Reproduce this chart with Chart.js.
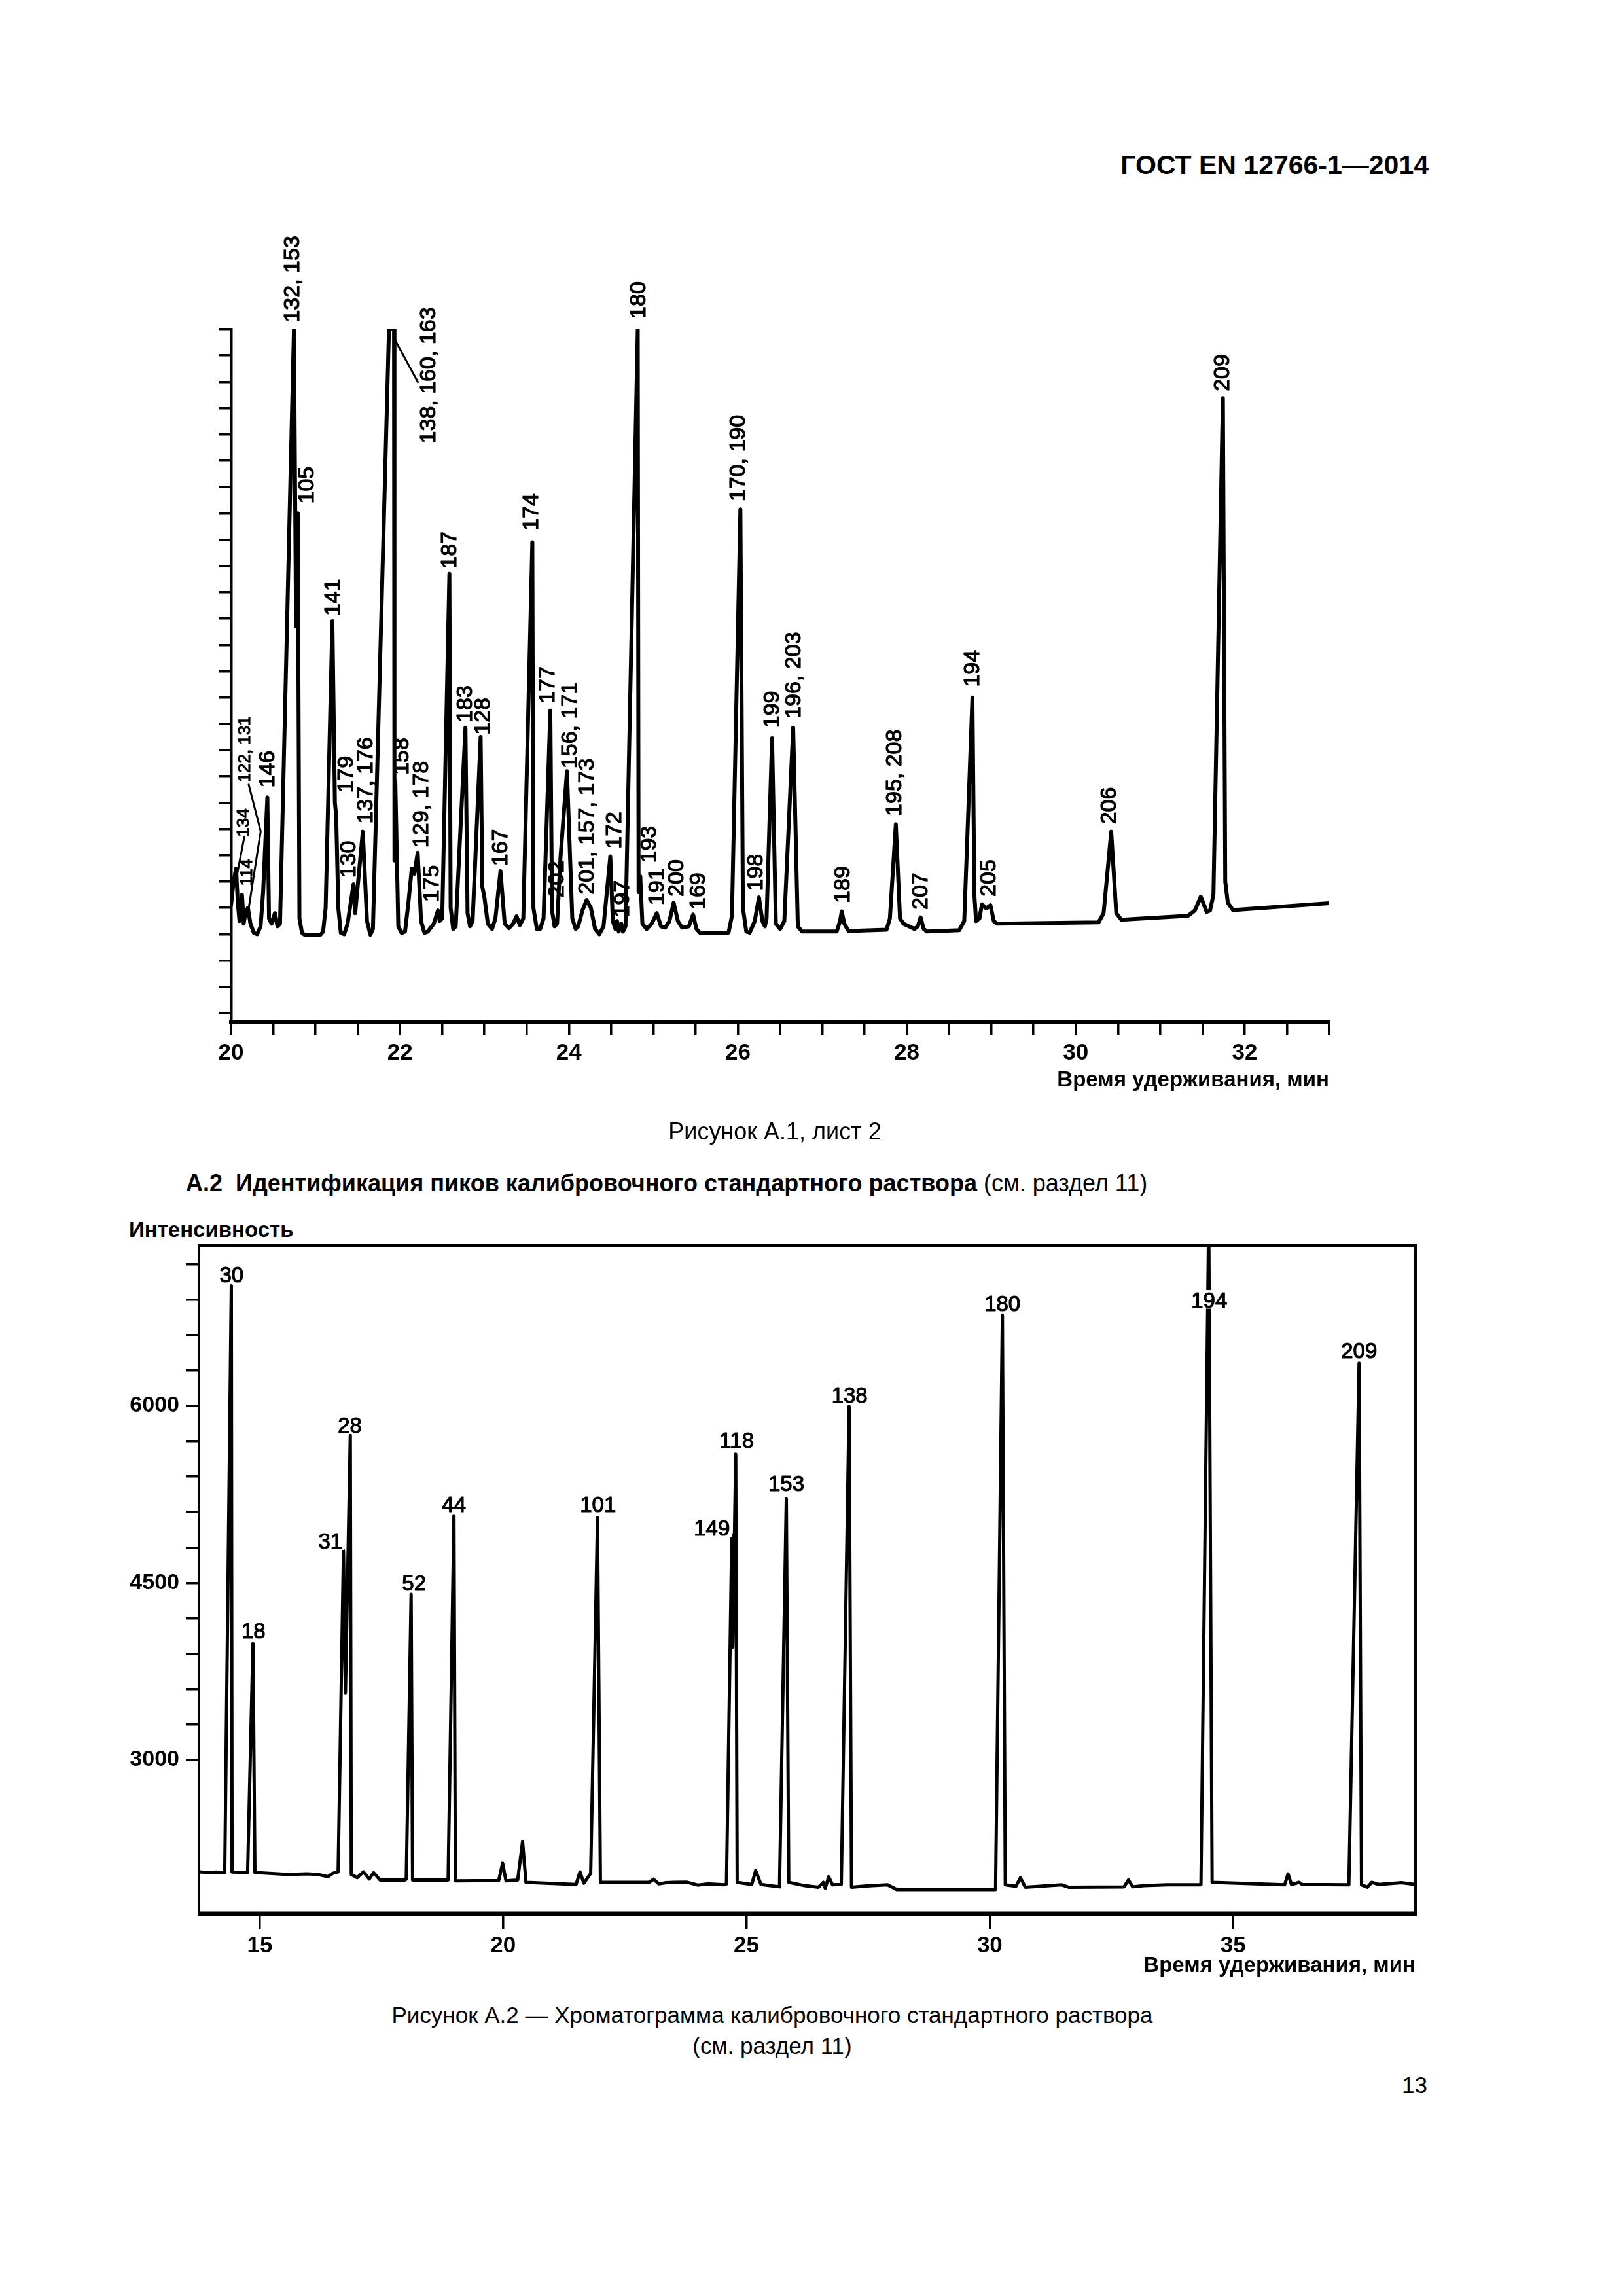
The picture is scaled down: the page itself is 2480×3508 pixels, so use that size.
<!DOCTYPE html>
<html lang="ru">
<head>
<meta charset="UTF-8">
<title>ГОСТ EN 12766-1—2014, с. 13</title>
<script src="https://cdn.jsdelivr.net/npm/chart.js"></script>
<style>
  html, body { margin: 0; padding: 0; background: #fff; }
  body { width: 2480px; height: 3508px; position: relative; overflow: hidden;
         font-family: "Liberation Sans", Arial, sans-serif; color: #000; }
  .t { position: absolute; line-height: 1; white-space: nowrap; }
  .c { transform: translateX(-50%); }
  canvas { position: absolute; left: 0; }
</style>
</head>
<body>
<div class="t" style="right:297px; top:232px; font-size:41px; font-weight:bold;">ГОСТ EN 12766-1—2014</div>

<canvas id="chartA1" width="2480" height="1450" style="top:300px;"></canvas>
<div class="t c" style="left:1184px; top:1711px; font-size:36px;">Рисунок А.1, лист 2</div>

<div class="t" style="left:284px; top:1790px; font-size:36px;"><b>А.2&nbsp;&nbsp;Идентификация пиков калибровочного стандартного раствора</b> (см. раздел 11)</div>
<div class="t" style="left:197px; top:1862px; font-size:33px; font-weight:bold;">Интенсивность</div>

<canvas id="chartA2" width="2480" height="1250" style="top:1800px;"></canvas>
<div class="t c" style="left:1180px; top:3061px; font-size:35px;">Рисунок А.2 — Хроматограмма калибровочного стандартного раствора</div>
<div class="t c" style="left:1180px; top:3108px; font-size:35px;">(см. раздел 11)</div>
<div class="t" style="right:299px; top:3168px; font-size:35px;">13</div>

<script>
// ---- Рисунок А.1, лист 2 (шкала интенсивности без подписей, в делениях) ----
const timesA = [20.00,20.03,20.06,20.08,20.10,20.13,20.15,20.17,20.20,20.23,20.27,20.31,20.35,20.38,20.43,20.45,20.48,20.52,20.55,20.58,
  20.745,20.77,20.79,20.81,20.84,20.87,21.06,21.09,21.12,21.20,21.23,21.245,21.27,21.30,21.34,21.38,21.45,21.47,21.56,21.61,
  21.65,21.68,21.87,21.93,21.935,21.945,21.98,22.02,22.06,22.10,22.14,22.17,22.21,22.25,22.29,22.33,22.40,22.45,22.47,22.50,
  22.585,22.60,22.63,22.66,22.775,22.80,22.83,22.86,22.955,22.975,23.00,23.04,23.09,23.13,23.19,23.24,23.29,23.34,23.38,23.42,
  23.46,23.567,23.58,23.62,23.66,23.70,23.78,23.80,23.83,23.86,23.90,23.977,24.04,24.08,24.11,24.16,24.21,24.26,24.31,24.36,
  24.41,24.49,24.52,24.55,24.57,24.59,24.62,24.64,24.67,24.815,24.825,24.845,24.87,24.92,24.98,25.04,25.09,25.14,25.19,25.24,
  25.29,25.34,25.42,25.47,25.51,25.55,25.89,25.93,26.03,26.06,26.10,26.14,26.20,26.25,26.29,26.32,26.34,26.405,26.45,26.50,
  26.55,26.655,26.71,26.76,27.17,27.21,27.23,27.26,27.31,27.76,27.80,27.87,27.92,27.96,28.09,28.13,28.163,28.20,28.24,28.62,
  28.68,28.777,28.80,28.82,28.86,28.89,28.94,28.99,29.03,29.07,30.27,30.33,30.42,30.48,30.54,31.33,31.41,31.48,31.55,31.59,
  31.63,31.742,31.77,31.80,31.86,33.00];
const signalA = [4.1,5.0,5.5,4.2,3.5,4.5,3.4,3.8,4.0,3.4,3.05,3.0,3.3,4.6,8.2,3.6,3.4,3.8,3.3,3.4,
  26.0,14.7,19.0,3.6,3.05,2.98,2.98,3.1,4.0,14.9,8.0,7.5,4.0,3.05,3.0,3.4,4.9,3.8,6.9,3.5,
  2.98,3.2,26.0,26.0,5.8,8.8,3.3,3.05,3.1,4.2,5.5,5.3,6.1,3.5,3.05,3.1,3.4,3.9,3.5,3.6,
  16.7,4.0,3.2,3.3,10.85,3.8,3.3,3.5,10.5,4.8,4.4,3.4,3.2,3.6,5.4,3.4,3.23,3.4,3.68,3.35,
  3.6,17.9,4.0,3.2,3.2,3.6,11.5,3.9,3.3,3.4,5.9,9.2,3.6,3.2,3.3,3.9,4.3,4.0,3.2,3.0,
  3.3,5.96,3.5,3.2,3.5,3.1,3.4,3.1,3.3,26.0,4.6,5.2,3.4,3.2,3.4,3.8,3.3,3.25,3.5,4.2,
  3.5,3.25,3.3,3.75,3.2,3.06,3.06,3.7,19.15,4.0,3.1,3.06,3.5,4.4,3.5,3.3,3.6,10.45,3.4,3.2,
  3.5,10.85,3.3,3.1,3.1,3.5,3.87,3.4,3.12,3.17,3.6,7.18,3.6,3.4,3.2,3.3,3.64,3.2,3.1,3.15,
  3.5,12.0,4.5,3.5,3.6,4.14,3.98,4.1,3.5,3.4,3.45,3.8,6.9,3.8,3.55,3.7,3.9,4.43,3.85,3.9,
  4.5,23.38,5.0,4.2,3.92,4.18];

const labelTextA = ['132, 153','105','146','122, 131','134','114','141','179','130','137, 176',
  '138, 160, 163','158','129, 178','175','187','183','128','167','174','177',
  '202','156, 171','201, 157, 173','172','197','180','193','191','200','169',
  '170, 190','198','199','196, 203','189','195, 208','207','194','205','206','209'];
const labelTimeA = [20.735,20.90,20.44,20.17,20.157,20.196,21.21,21.37,21.396,21.60,
  22.345,22.03,22.26,22.38,22.59,22.78,22.99,23.20,23.56,23.755,
  23.86,24.02,24.22,24.544,24.635,24.83,24.957,25.05,25.28,25.54,
  26.01,26.22,26.41,26.665,27.25,27.86,28.17,28.786,28.98,30.405,31.74];
const labelLevelA = [26.26,19.37,8.57,8.77,6.70,4.84,15.1,8.37,5.14,7.2,
  21.66,9.06,6.29,4.22,16.9,11.05,10.58,5.59,18.34,11.77,
  4.39,9.3,4.51,6.25,3.64,26.4,5.71,4.1,4.43,3.93,
  19.45,4.64,10.84,11.2,4.18,7.49,3.93,12.4,4.43,7.18,23.64];

const leader138 = [[21.936, 25.62], [22.212, 23.99]];
const leader122 = [[20.209, 8.69], [20.351, 6.91], [20.209, 3.97]];
const leader134 = [[20.157, 6.70], [20.054, 4.97]];

// ---- Рисунок А.2 ----
const timesB = [13.75,13.95,14.10,14.28,14.415,14.43,14.75,14.86,14.90,15.20,15.60,15.97,16.20,16.40,16.50,16.61,16.72,16.76,16.86,16.88,
  17.00,17.13,17.25,17.34,17.47,17.98,18.01,18.11,18.14,18.87,18.99,19.02,19.91,19.99,20.06,20.30,20.40,20.47,21.50,21.58,
  21.66,21.80,21.94,22.00,23.00,23.09,23.20,23.35,23.51,23.77,24.00,24.20,24.54,24.59,24.70,24.72,24.78,24.81,25.11,25.19,
  25.30,25.68,25.82,25.87,26.20,26.48,26.58,26.62,26.69,26.77,26.95,27.11,27.16,27.47,27.90,28.09,30.12,30.26,30.32,30.54,
  30.63,30.73,31.48,31.62,32.76,32.85,32.94,33.17,33.65,34.34,34.50,34.57,36.06,36.13,36.20,36.36,36.42,37.38,37.59,37.64,
  37.76,37.85,38.00,38.46,38.75];
const signalB = [2052,2046,2050,2046,7017,2050,2046,3986,2046,2040,2030,2035,2030,2011,2040,2052,4776,3569,5752,2030,
  2003,2052,1992,2044,1983,1983,1990,4403,1983,1983,5069,1975,1978,2125,1975,1983,2308,1963,1945,2052,
  1955,2040,5053,1963,1963,1990,1950,1960,1963,1965,1940,1950,1942,1950,4909,3955,5590,1963,1945,2064,
  1945,1925,5216,1963,1935,1922,1963,1913,2011,1942,1945,5996,1922,1932,1942,1902,1902,6769,1942,1930,
  2003,1922,1942,1922,1925,1983,1925,1935,1942,1942,7600,1963,1942,2035,1945,1963,1945,1942,6362,1942,
  1922,1963,1945,1960,1945];

const labelTextB = ['30','18','31','28','52','44','101','149','118','153','138','180','194','209'];
const labelTimeB = [14.42,14.87,16.45,16.85,18.17,18.99,21.95,24.29,24.80,25.82,27.12,30.26,34.51,37.59];
const labelLevelB = [7048,4029,4791,5773,4436,5102,5102,4899,5643,5277,6029,6802,6834,6407];

const xTicksB = [15, 20, 25, 30, 35];
const yTicksB = [3000,3300,3600,3900,4200,4500,4800,5100,5400,5700,6000,6300,6600,6900,7200];
const yLabelsB = [3000, 4500, 6000];

// ---------------------------------------------------------------
const FONT = '"Liberation Sans", Arial, sans-serif';
Chart.defaults.font.family = FONT;
Chart.defaults.color = '#000';

const pts = (xs, ys) => xs.map((x, i) => ({ x: x, y: ys[i] }));
const pairs = arr => arr.map(p => ({ x: p[0], y: p[1] }));

function labelPlugin(id, text, at, level, opt) {
  return {
    id: id,
    afterDatasetsDraw(chart) {
      const ctx = chart.ctx, xs = chart.scales.x, ys = chart.scales.y;
      ctx.save();
      ctx.strokeStyle = '#000';
      ctx.lineWidth = 1.2;
      ctx.lineJoin = 'round';
      text.forEach((txt, i) => {
        const px = xs.getPixelForValue(at[i]);
        const py = ys.getPixelForValue(level[i]);
        const size = (opt.small && opt.small.includes(txt)) ? opt.smallSize : opt.size;
        ctx.font = size + 'px ' + FONT;
        if (opt.vertical) {
          ctx.save();
          ctx.translate(px, py);
          ctx.rotate(-Math.PI / 2);
          ctx.fillStyle = '#000';
          ctx.textAlign = 'left';
          ctx.textBaseline = 'middle';
          ctx.fillText(txt, 0, 0);
          ctx.strokeText(txt, 0, 0);
          ctx.restore();
        } else {
          const w = ctx.measureText(txt).width;
          ctx.fillStyle = '#fff';
          ctx.fillRect(px - w / 2 - 3, py - size * 0.8, w + 6, size * 0.86);
          ctx.fillStyle = '#000';
          ctx.textAlign = 'center';
          ctx.textBaseline = 'alphabetic';
          ctx.fillText(txt, px, py);
          ctx.strokeText(txt, px, py);
        }
      });
      ctx.restore();
    }
  };
}

const frame = {
  id: 'frame',
  afterDraw(chart) {
    const { ctx, chartArea: a } = chart;
    ctx.save();
    ctx.strokeStyle = '#000';
    ctx.lineWidth = 4;
    ctx.strokeRect(a.left, a.top, a.right - a.left, a.bottom - a.top);
    ctx.lineWidth = 7;
    ctx.beginPath();
    ctx.moveTo(a.left - 2, a.bottom);
    ctx.lineTo(a.right + 2, a.bottom);
    ctx.stroke();
    ctx.restore();
  }
};

const traceStyle = w => ({ borderColor: '#000', borderWidth: w, pointRadius: 0, tension: 0,
  borderJoinStyle: 'round', borderCapStyle: 'round', fill: false });

// chart A.1
new Chart(document.getElementById('chartA1'), {
  type: 'line',
  data: {
    datasets: [
      Object.assign({ data: pts(timesA, signalA) }, traceStyle(6)),
      Object.assign({ data: pairs(leader138) }, traceStyle(3)),
      Object.assign({ data: pairs(leader122) }, traceStyle(3)),
      Object.assign({ data: pairs(leader134) }, traceStyle(3))
    ]
  },
  options: {
    responsive: false,
    animation: false,
    events: [],
    layout: { padding: { left: 335, right: 449, top: 203, bottom: 0 } },
    plugins: { legend: { display: false }, tooltip: { enabled: false } },
    scales: {
      x: {
        type: 'linear', min: 20, max: 33,
        afterFit(s) { s.height = 188; },
        ticks: { stepSize: 0.5, autoSkip: false, maxRotation: 0, padding: 7,
                 font: { size: 35, weight: 'bold' },
                 callback: v => (v % 2 === 0 ? String(v) : '') },
        grid: { drawOnChartArea: false, tickLength: 19, color: '#000', lineWidth: 3.5 },
        border: { display: true, color: '#000', width: 6 },
        title: { display: true, text: 'Время удерживания, мин', align: 'end',
                 font: { size: 33, weight: 'bold' }, padding: { top: 0, bottom: 79 } }
      },
      y: {
        type: 'linear', min: -0.35, max: 26,
        afterFit(s) { s.width = 18; },
        ticks: { stepSize: 1, includeBounds: false, callback: () => '' },
        grid: { drawOnChartArea: false, tickLength: 18, color: '#000', lineWidth: 3.5 },
        border: { display: true, color: '#000', width: 4.5 }
      }
    }
  },
  plugins: [labelPlugin('labelsA', labelTextA, labelTimeA, labelLevelA,
    { vertical: true, size: 34, smallSize: 26, small: ['122, 131', '134', '114'] })]
});

// chart A.2
new Chart(document.getElementById('chartA2'), {
  type: 'line',
  data: { datasets: [Object.assign({ data: pts(timesB, signalB) }, traceStyle(5))] },
  options: {
    responsive: false,
    animation: false,
    events: [],
    layout: { padding: { left: 154, right: 317, top: 103, bottom: 0 } },
    plugins: { legend: { display: false }, tooltip: { enabled: false } },
    scales: {
      x: {
        type: 'linear', min: 13.75, max: 38.75,
        afterFit(s) { s.height = 126; },
        afterBuildTicks(s) { s.ticks = xTicksB.map(v => ({ value: v })); },
        ticks: { autoSkip: false, maxRotation: 0, padding: 4, font: { size: 35, weight: 'bold' } },
        grid: { drawOnChartArea: false, tickLength: 24, color: '#000', lineWidth: 3.5 },
        border: { display: false },
        title: { display: true, text: 'Время удерживания, мин', align: 'end',
                 font: { size: 33, weight: 'bold' }, padding: { top: 0, bottom: 26 } }
      },
      y: {
        type: 'linear', min: 1697, max: 7358,
        afterFit(s) { s.width = 150; },
        afterBuildTicks(s) { s.ticks = yTicksB.map(v => ({ value: v })); },
        ticks: { padding: 10, font: { size: 34, weight: 'bold' },
                 callback: v => (yLabelsB.includes(v) ? String(v) : '') },
        grid: { drawOnChartArea: false, tickLength: 20, color: '#000', lineWidth: 3.5 },
        border: { display: false }
      }
    }
  },
  plugins: [frame, labelPlugin('labelsB', labelTextB, labelTimeB, labelLevelB,
    { vertical: false, size: 33 })]
});
</script>
</body>
</html>
